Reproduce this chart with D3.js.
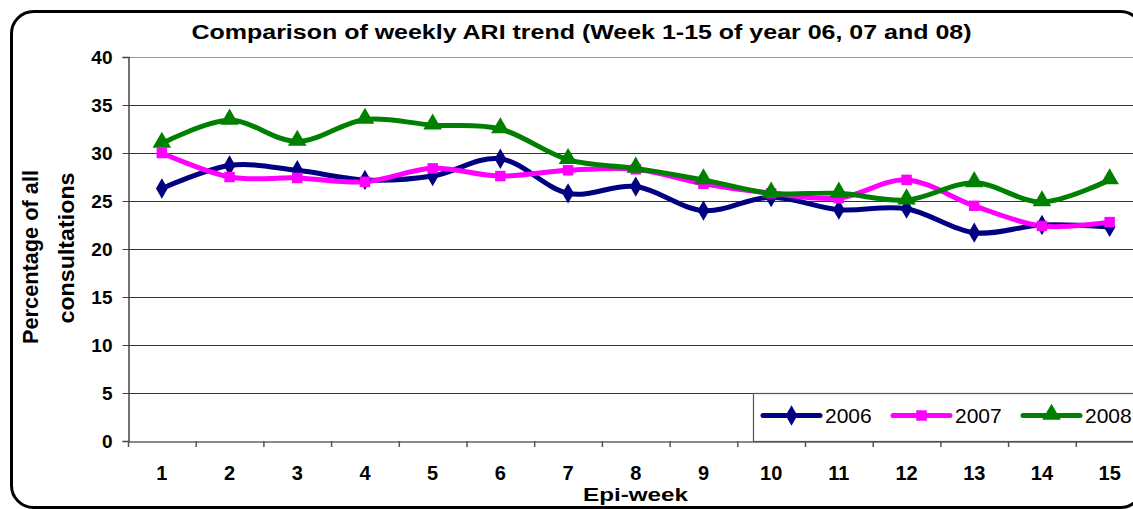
<!DOCTYPE html>
<html>
<head>
<meta charset="utf-8">
<script src="https://cdn.jsdelivr.net/npm/d3@7"></script>
<style>
  html, body { margin: 0; padding: 0; background: #fff; }
  svg { display: block; }
  text { font-family: "Liberation Sans", Arial, sans-serif; }
</style>
</head>
<body>
<svg id="chart" width="1133" height="509"></svg>
<script>
const weeks = [1,2,3,4,5,6,7,8,9,10,11,12,13,14,15];
const yTicks = [0,5,10,15,20,25,30,35,40];
const seriesNames = ["2006","2007","2008"];
const values2006 = [26.3,28.7,28.2,27.2,27.6,29.4,25.8,26.5,24.0,25.4,24.1,24.2,21.7,22.5,22.3];
const values2007 = [30.0,27.5,27.4,27.0,28.4,27.6,28.2,28.3,26.8,25.8,25.3,27.2,24.5,22.4,22.8];
const values2008 = [31.0,33.4,31.2,33.5,32.9,32.5,29.3,28.4,27.2,25.8,25.8,25.1,26.9,24.9,27.2];
const colors = ["#000080","#FF00FF","#008000"];
const shapes = [d3.symbolDiamond, d3.symbolSquare, d3.symbolTriangle];
const symSizes = [120, 110, 150];

const series = [values2006, values2007, values2008].map((v,i)=>({name:seriesNames[i], values:v, color:colors[i], shape:shapes[i], size:symSizes[i]}));

const svg = d3.select("#chart");

// outer rounded frame
svg.append("rect").attr("x",11.5).attr("y",11.5).attr("width",1131).attr("height",496)
  .attr("rx",22).attr("ry",22).attr("fill","none").attr("stroke","#000").attr("stroke-width",3);

const plotLeft = 128, plotTop = 57, plotBottom = 441;
const bandW = 67.7;
const x = d3.scaleBand().domain(weeks).range([plotLeft, plotLeft + bandW*weeks.length]).padding(0);
const y = d3.scaleLinear().domain([0,40]).range([plotBottom, plotTop]);

// gridlines
svg.append("g").selectAll("line").data(yTicks.filter(t=>t>0)).join("line")
  .attr("x1",plotLeft).attr("x2",1133).attr("y1",d=>y(d)+0.5).attr("y2",d=>y(d)+0.5)
  .attr("stroke",d=>d===40?"#999":"#333").attr("stroke-width",1);

// y axis
const yAxis = svg.append("g").attr("transform",`translate(${plotLeft+0.5},0)`)
  .call(d3.axisLeft(y).tickValues(yTicks).tickSize(6).tickPadding(10));
yAxis.select(".domain").attr("stroke","#444").attr("stroke-width",1.5);
yAxis.selectAll(".tick line").attr("stroke","#444");
yAxis.selectAll("text").attr("font-size",19).attr("font-weight","bold").attr("fill","#000")
  .attr("font-family","Liberation Sans, Arial, sans-serif");

// x axis
const xAxis = svg.append("g").attr("transform",`translate(0,${plotBottom+0.5})`)
  .call(d3.axisBottom(x).tickSize(0).tickPadding(24));
xAxis.select(".domain").attr("stroke","#666").attr("stroke-width",1.5);
xAxis.selectAll("text").attr("font-size",20).attr("font-weight","bold").attr("fill","#000")
  .attr("font-family","Liberation Sans, Arial, sans-serif");
// tick marks at band boundaries
svg.append("g").selectAll("line").data(weeks).join("line")
  .attr("x1",d=>x(d)+0.5).attr("x2",d=>x(d)+0.5)
  .attr("y1",plotBottom).attr("y2",plotBottom+6).attr("stroke","#555").attr("stroke-width",1.5);

// lines
const line = d3.line().x((d,i)=>x(weeks[i])+x.bandwidth()/2).y(d=>y(d)).curve(d3.curveCardinal.tension(0));
const gS = svg.append("g");
series.forEach(s=>{
  gS.append("path").attr("d",line(s.values)).attr("fill","none")
    .attr("stroke",s.color).attr("stroke-width",5).attr("stroke-linejoin","round").attr("stroke-linecap","round");
});
series.forEach(s=>{
  gS.append("g").selectAll("path").data(s.values).join("path")
    .attr("transform",(d,i)=>`translate(${x(weeks[i])+x.bandwidth()/2},${y(d) + (s.shape===d3.symbolTriangle?-1:0)})`)
    .attr("d",d3.symbol().type(s.shape).size(s.size)).attr("fill",s.color);
});

// legend
const lg = svg.append("g");
lg.append("rect").attr("x",753.5).attr("y",393.5).attr("width",420).attr("height",48)
  .attr("fill","#fff").attr("stroke","#555").attr("stroke-width",1.2);
const legX = [763, 893, 1023];
series.forEach((s,i)=>{
  const lx = legX[i];
  lg.append("line").attr("x1",lx).attr("x2",lx+57).attr("y1",415.5).attr("y2",415.5)
    .attr("stroke",s.color).attr("stroke-width",5).attr("stroke-linecap","round");
  lg.append("path").attr("transform",`translate(${lx+28.5},${415.5 + (s.shape===d3.symbolTriangle?-1:0)})`)
    .attr("d",d3.symbol().type(s.shape).size(s.size)).attr("fill",s.color);
  lg.append("text").attr("x",lx+62).attr("y",423).attr("font-size",21).attr("fill","#000").text(s.name);
});

// title
svg.append("text").attr("x",581.5).attr("y",39).attr("text-anchor","middle")
  .attr("font-size",20).attr("font-weight","bold")
  .attr("textLength",780).attr("lengthAdjust","spacingAndGlyphs")
  .text("Comparison of weekly ARI trend (Week 1-15 of year 06, 07 and 08)");

// y label
svg.append("text").attr("transform","translate(38,257) rotate(-90)")
  .attr("text-anchor","middle").attr("font-size",22).attr("font-weight","bold")
  .attr("textLength",174).attr("lengthAdjust","spacingAndGlyphs").text("Percentage of all");
svg.append("text").attr("transform","translate(74,248) rotate(-90)")
  .attr("text-anchor","middle").attr("font-size",22).attr("font-weight","bold")
  .attr("textLength",151).attr("lengthAdjust","spacingAndGlyphs").text("consultations");

// x label
svg.append("text").attr("x",635.5).attr("y",500.5).attr("text-anchor","middle")
  .attr("font-size",19).attr("font-weight","bold")
  .attr("textLength",105).attr("lengthAdjust","spacingAndGlyphs").text("Epi-week");
</script>
</body>
</html>
